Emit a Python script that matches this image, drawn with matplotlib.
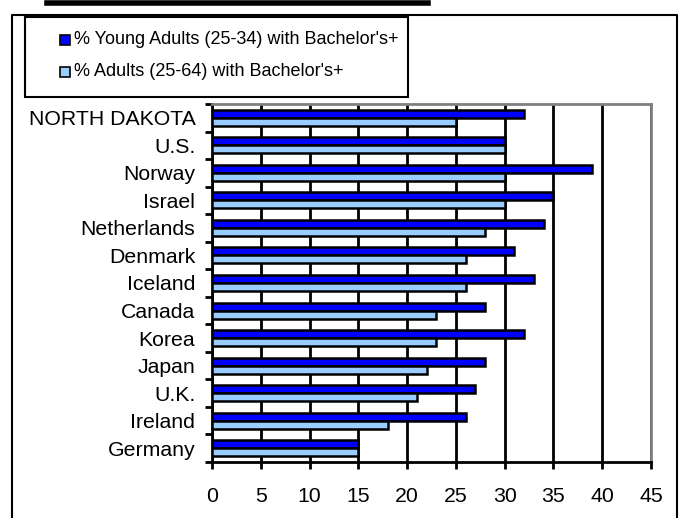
import matplotlib
matplotlib.use('Agg')
import matplotlib.pyplot as plt
from matplotlib.patches import Rectangle
from matplotlib.lines import Line2D
import numpy as np

plt.rcParams['font.family'] = ['Liberation Sans', 'DejaVu Sans']

countries = ['NORTH DAKOTA', 'U.S.', 'Norway', 'Israel', 'Netherlands', 'Denmark',
             'Iceland', 'Canada', 'Korea', 'Japan', 'U.K.', 'Ireland', 'Germany']
young_adults = [32, 30, 39, 35, 34, 31, 33, 28, 32, 28, 27, 26, 15]
all_adults = [25, 30, 30, 30, 28, 26, 26, 23, 23, 22, 21, 18, 15]
series_labels = ["% Young Adults (25-34) with Bachelor's+",
                 "% Adults (25-64) with Bachelor's+"]
x_ticks = [0, 5, 10, 15, 20, 25, 30, 35, 40, 45]

DARK = '#0000FF'
LIGHT = '#99CCFF'
W, H = 681, 518


def fx(px):
    return px / W


def fy(py):
    return 1 - py / H


fig = plt.figure(figsize=(W / 100, H / 100), dpi=100)

# outer frame (bottom edge falls off the picture)
fig.add_artist(Line2D([fx(12), fx(12), fx(677), fx(677)],
                      [fy(530), fy(15), fy(15), fy(530)],
                      color='black', linewidth=1.5))

# cut-off title underline
fig.add_artist(Line2D([fx(47), fx(428)], [fy(2.5), fy(2.5)], color='black', linewidth=4))

# legend box
fig.add_artist(Rectangle((fx(25), fy(97)), fx(408) - fx(25), fy(17) - fy(97),
                         transform=fig.transFigure, facecolor='white',
                         edgecolor='black', linewidth=1.5))
for i, (lab, col) in enumerate(zip(series_labels, [DARK, LIGHT])):
    yc = 40 + i * 32
    fig.add_artist(Rectangle((fx(60), fy(yc + 5)), fx(10), fy(0) - fy(10),
                             transform=fig.transFigure, facecolor=col,
                             edgecolor='black', linewidth=1.2))
    fig.text(fx(74), fy(yc), lab, fontsize=13, va='center', ha='left')

ax = fig.add_axes([fx(212), fy(462), fx(651) - fx(212), fy(104) - fy(462)])

y = np.arange(len(countries))
ax.barh(y - 0.145, young_adults, height=0.29, color=DARK, edgecolor='black',
        linewidth=1.8, zorder=3)
ax.barh(y + 0.145, all_adults, height=0.29, color=LIGHT, edgecolor='black',
        linewidth=1.8, zorder=3)

ax.set_xlim(0, 45)
ax.set_ylim(len(countries) - 0.5, -0.5)
ax.set_xticks(x_ticks)
ax.set_xticklabels([str(v) for v in x_ticks], fontsize=15.3)
ax.set_yticks(y)
ax.set_yticklabels(countries, fontsize=15.3)
ax.set_yticks(np.arange(len(countries) + 1) - 0.5, minor=True)
ax.tick_params(axis='y', which='major', length=0, pad=12)
ax.tick_params(axis='y', which='minor', length=5, width=2, direction='out')
ax.tick_params(axis='x', length=5, width=2, direction='out', pad=13)

ax.xaxis.grid(True, color='black', linewidth=2)
ax.set_axisbelow(True)
for s in ['left', 'bottom']:
    ax.spines[s].set_color('black')
    ax.spines[s].set_linewidth(2)
for s in ['top', 'right']:
    ax.spines[s].set_color('#808080')
    ax.spines[s].set_linewidth(2)

fig.savefig('out.png', dpi=100)
